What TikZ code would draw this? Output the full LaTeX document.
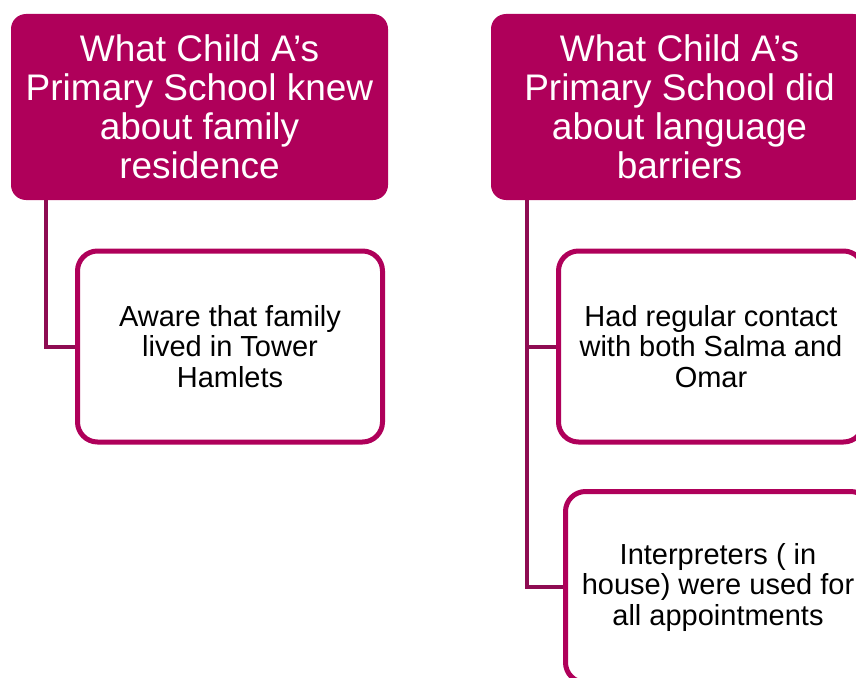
\documentclass[tikz,border=0pt]{standalone}
\usepackage{fontspec}
\setmainfont{Liberation Sans}
\usepackage{xcolor}
\usepackage{tikz}
\usetikzlibrary{calc}
\usetikzlibrary{positioning}
\definecolor{plum}{HTML}{AF005A}
\definecolor{plumdark}{HTML}{8E0C52}
\tikzstyle{head} = [rectangle, rounded corners=15pt, fill=plum, text=white, minimum width=377pt, minimum height=186pt, align=center, font=\fontsize{37}{39}\selectfont]
\tikzstyle{fact} = [rectangle, rounded corners=20pt, draw=plum, line width=5pt, fill=white, text=black, minimum width=305pt, minimum height=191pt, align=center, font=\fontsize{29}{30.5}\selectfont]
\tikzstyle{link} = [-, draw=plumdark, line width=4pt]

\begin{document}
\begin{tikzpicture}[x=1pt, y=-1pt]
\useasboundingbox (0,0) rectangle (856,677);
\clip (0,0) rectangle (856,677);
\node [head] (knew) at (199.5, 107) {What Child A’s\\Primary School knew\\about family\\residence};
\node [head] (did) at (679.5, 107) {What Child A’s\\Primary School did\\about language\\barriers};
\node [fact] (tower) at (230, 346.5) {Aware that family\\lived in Tower\\Hamlets};
\node [fact] (contact) at (711, 346.5) {Had regular contact\\with both Salma and\\Omar};
\node [fact] (interp) at (718, 587) {Interpreters ( in\\house) were used for\\all appointments};
\draw [link] ([xshift=35pt]knew.south west) |- (tower.west);
\draw [link] ([xshift=36pt]did.south west) |- (contact.west);
\draw [link] ([xshift=36pt]did.south west) |- (interp.west);
\end{tikzpicture}
\end{document}
